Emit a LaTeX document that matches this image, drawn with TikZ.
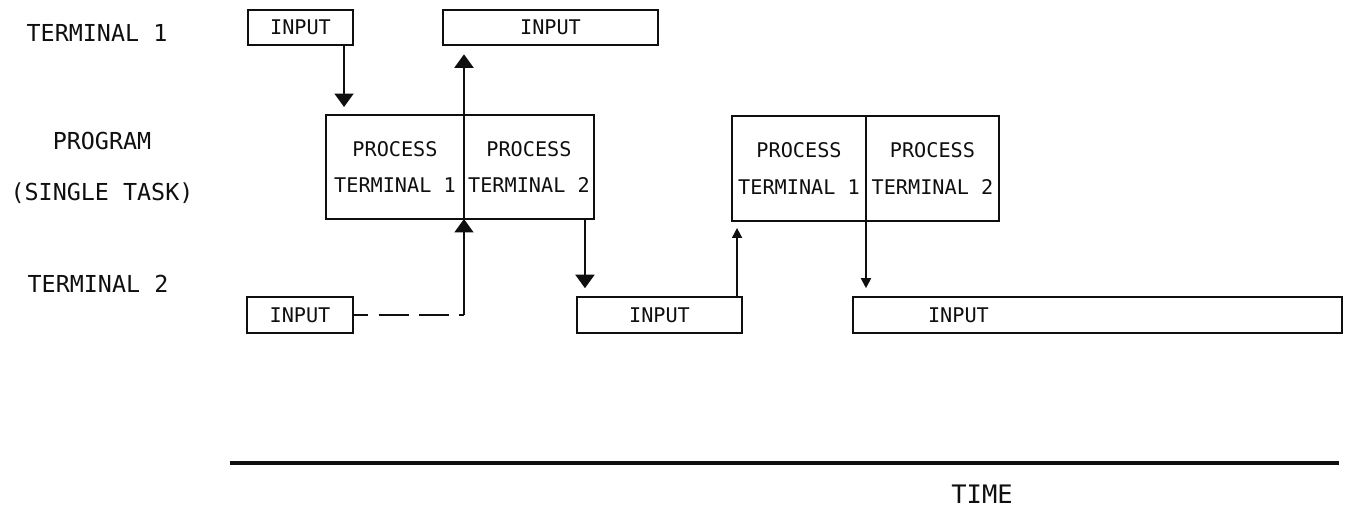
\documentclass[tikz,border=0pt]{standalone}
\usepackage{fontspec}
\setmonofont{DejaVu Sans Mono}
\usepackage{tikz}
\usetikzlibrary{arrows.meta, positioning, calc}
\definecolor{plotink}{RGB}{15, 15, 15}
\tikzstyle{inputbox} = [
    rectangle,
    draw=plotink,
    line width=1.2pt,
    minimum height=0.71cm,
    inner sep=0pt,
    text=plotink,
    font=\ttfamily\fontsize{11.5}{14}\selectfont
]
\tikzstyle{procbox} = [
    rectangle,
    draw=plotink,
    line width=1.2pt,
    inner sep=0pt,
    outer sep=0pt,
    align=center,
    text=plotink,
    font=\ttfamily\fontsize{11.5}{21}\selectfont
]
\tikzstyle{rowlabel} = [
    inner sep=0pt,
    text=plotink,
    font=\ttfamily\fontsize{13.3}{16}\selectfont
]
\tikzstyle{bigarrow} = [
    line width=1.1pt,
    -{Triangle[width=0.38cm, length=0.27cm]},
    color=plotink
]
\tikzstyle{smallarrow} = [
    line width=1pt,
    -{Triangle[width=0.2cm, length=0.2cm]},
    color=plotink
]
\tikzstyle{dashline} = [
    line width=1.1pt,
    dash pattern=on 17pt off 6pt,
    dash phase=9pt,
    color=plotink
]
\begin{document}
\begin{tikzpicture}[x=0.02cm, y=-0.02cm]
        \useasboundingbox (0, 0) rectangle (1349, 510);

        % Row labels
        \node[rowlabel] (term1) at (97, 33) {TERMINAL 1};
        \node[rowlabel] (prog) at (102, 141) {PROGRAM};
        \node[rowlabel] (single) at (102, 193) {(SINGLE TASK)};
        \node[rowlabel] (term2) at (98, 284) {TERMINAL 2};

        % Terminal 1 inputs
        \node[inputbox, minimum width=2.1cm] (t1in1) at (300.5, 27.5) {INPUT};
        \node[inputbox, minimum width=4.3cm] (t1in2) at (550.5, 27.5) {INPUT};

        % Program
        \node[procbox, minimum width=2.76cm, minimum height=2.08cm] (p1a) at (395, 167) {PROCESS\\TERMINAL 1};
        \node[procbox, minimum width=2.6cm, minimum height=2.08cm, right=0pt of p1a] (p1b) {PROCESS\\TERMINAL 2};
        \node[procbox, minimum width=2.68cm, minimum height=2.1cm] (p2a) at (799, 168.5) {PROCESS\\TERMINAL 1};
        \node[procbox, minimum width=2.66cm, minimum height=2.1cm, right=0pt of p2a] (p2b) {PROCESS\\TERMINAL 2};

        % Terminal 2 inputs
        \node[inputbox, minimum width=2.12cm] (t2in1) at (300, 315) {INPUT};
        \node[inputbox, minimum width=3.3cm] (t2in2) at (659.5, 315) {INPUT};
        \node[inputbox, text width=6.78cm, inner xsep=1.5cm, align=left] (t2in3) at (1097.5, 315) {INPUT};

        % Arrows
        \coordinate (a1) at ($(t1in1.south east)+(-10, 0)$);
        \draw[bigarrow, shorten >=0.16cm] (a1) -- (a1 |- p1a.north);
        \draw[dashline] (t2in1.east) -- (t2in1.east -| p1a.east);
        \draw[bigarrow] (t2in1.east -| p1a.east) -- (p1a.south east);
        \draw[bigarrow, shorten >=0.16cm] (p1a.north east) -- (p1a.north east |- t1in2.south);
        \coordinate (a4) at ($(p1b.south east)+(-9, 0)$);
        \draw[bigarrow, shorten >=0.16cm] (a4) -- (a4 |- t2in2.north);
        \coordinate (a5) at ($(t2in2.north east)+(-6, 0)$);
        \draw[smallarrow, shorten >=0.14cm] (a5) -- (a5 |- p2a.south);
        \draw[smallarrow, shorten >=0.16cm] (p2a.south east) -- (p2a.south east |- t2in3.north);

        % Time axis
        \coordinate (tl) at (230, 463);
        \coordinate (tr) at (1339, 463);
        \draw[line width=2pt, color=plotink] (tl) -- (tr);
        \node[rowlabel, font=\ttfamily\fontsize{14.5}{17}\selectfont] (time) at (982, 494) {TIME};
    \end{tikzpicture}
\end{document}
